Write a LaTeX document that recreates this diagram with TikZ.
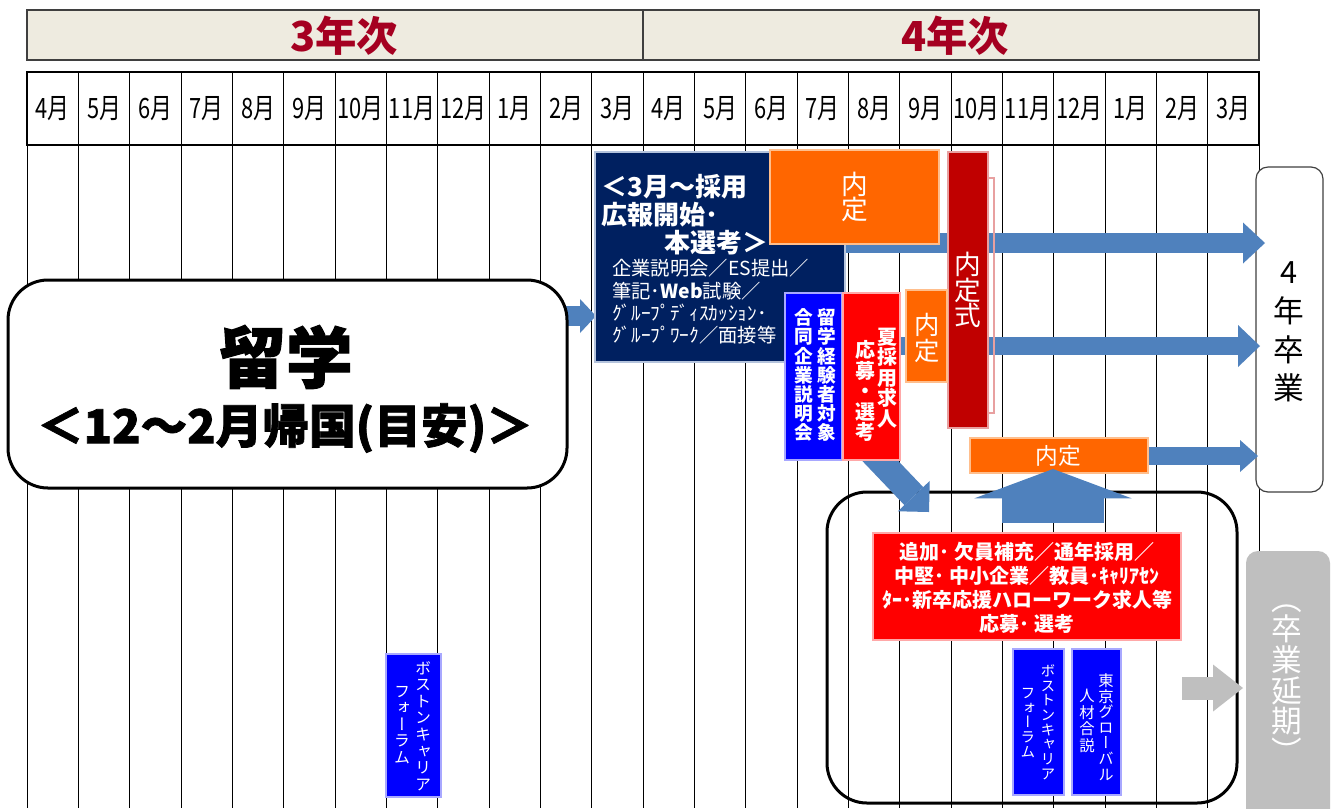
\documentclass[tikz,border=0pt]{standalone}
\usepackage{fontspec}
\setmainfont{Noto Sans CJK JP}
\newfontfamily\vjp{Noto Sans CJK JP}[RawFeature={+vert}]
\newfontfamily\monthfont{Noto Sans CJK JP}[FakeStretch=0.78]
\newfontfamily\heavyjp{Noto Sans CJK JP}[BoldFeatures={FakeBold=1.6}]
\usetikzlibrary{arrows.meta,fit}
\definecolor{hdrfill}{HTML}{EEEBE0}
\definecolor{hdredge}{HTML}{3F3F3F}
\definecolor{hdrtext}{HTML}{A50021}
\definecolor{navyc}{HTML}{002060}
\definecolor{navyedge}{HTML}{B4C3DC}
\definecolor{orangec}{HTML}{FF6600}
\definecolor{orangeedge}{HTML}{FFBE8C}
\definecolor{dredc}{HTML}{C00000}
\definecolor{drededge}{HTML}{E8A0A0}
\definecolor{redc}{HTML}{FF0000}
\definecolor{rededge}{HTML}{FFA8A8}
\definecolor{bluec}{HTML}{0000FF}
\definecolor{blueedge}{HTML}{A8A8FF}
\definecolor{arrowc}{HTML}{4F81BD}
\definecolor{grayc}{HTML}{BFBFBF}
\definecolor{gradedge}{HTML}{404040}
\tikzset{
  gridline/.style={draw=black, line width=0.6pt},
  hdrbox/.style={draw=hdredge, fill=hdrfill, line width=1.1pt, inner sep=0pt},
  hdrlabel/.style={font=\bfseries\fontsize{31}{31}\selectfont, text=hdrtext, inner sep=0pt},
  monthrow/.style={draw=black, line width=0.9pt, inner sep=0pt},
  monthlabel/.style={font=\monthfont\fontsize{21}{21}\selectfont, inner sep=0pt},
  cbox/.style={line width=1.1pt, inner sep=0pt},
  navybox/.style={cbox, fill=navyc, draw=navyedge},
  orangebox/.style={cbox, fill=orangec, draw=orangeedge},
  dredbox/.style={cbox, fill=dredc, draw=drededge},
  redbox/.style={cbox, fill=redc, draw=rededge},
  bluebox/.style={cbox, fill=bluec, draw=blueedge},
  biground/.style={draw=black, line width=2.25pt, rounded corners=30pt, inner sep=0pt},
  gradbox/.style={draw=gradedge, fill=white, line width=0.9pt, rounded corners=9pt, inner sep=0pt},
  delaybox/.style={fill=grayc, rounded corners=9pt, inner sep=0pt},
  wtext/.style={text=white, inner sep=0pt, align=center},
  ltext/.style={text=white, inner sep=0pt, anchor=west},
  vcol/.style={text=white, inner sep=0pt, align=center},
  barrow/.style n args={4}{line width=#1, draw=#4, -{Triangle[width=#2, length=#3, line width=0pt]}},
}
\begin{document}
\begin{tikzpicture}[x=0.75pt,y=-0.75pt]
\lineskiplimit=-100pt \lineskip=0pt
\useasboundingbox (0,0) rectangle (1333,808);
\clip (0,0) rectangle (1333,808);
\fill[white] (0,0) rectangle (1333,808);

% year headers
\node[hdrbox, fit={(27,10) (643,60)}] (y3) {};
\node[hdrlabel] (y3t) at (344,36) {3年次};
\node[hdrbox, fit={(643,10) (1259,60)}] (y4) {};
\node[hdrlabel] (y4t) at (955,36) {4年次};

% month row and grid
\node[monthrow, fit={(27,72) (1259,145)}] (mrow) {};
\foreach \i in {0,...,24}
  \draw[gridline] ({27+\i*51.333},72) -- ({27+\i*51.333},808);
\draw[gridline] (27,145) -- (1259,145);
\foreach \m [count=\i from 0] in {4,5,6,7,8,9,10,11,12,1,2,3,4,5,6,7,8,9,10,11,12,1,2,3}
  \node[monthlabel] (m\i) at ({27+(\i+0.5)*51.333},109) {\m 月};

% background-level boxes
\node[gradbox, fit={(1256,167) (1323,492)}] (grad) {};
\node[inner sep=0pt, align=center, font=\fontsize{23}{29}\selectfont] (gradt) at (1289,332) {4\\年\\卒\\業};
\node[biground, fit={(827,492) (1237,803)}] (bigbox) {};
\node[orangebox, fit={(970,438) (1148,473)}] (nt3) {};
\node[wtext, font=\fontsize{17}{17}\selectfont] (nt3t) at (1058,456) {内定};
\node[delaybox, fit={(1246,551) (1330,840)}] (delay) {};
\node[vcol, font=\vjp\fontsize{23}{23}\selectfont] (delayt) at (1287,684) {（\\卒\\業\\延\\期\\）};

% arrows
\coordinate (a0s) at (566,316);
\coordinate (a0e) at (596,316);
\coordinate (a1s) at (843,243);
\coordinate (a1e) at (1265,243);
\coordinate (a2s) at (900,346);
\coordinate (a2e) at (1260,346);
\coordinate (a3e) at (1258,456);
\coordinate (aus) at (1053,523);
\coordinate (aue) at (1053,469);
\coordinate (ads) at (866,446);
\coordinate (ade) at (929,512);
\coordinate (ags) at (1182,688);
\coordinate (age) at (1243,688);
\draw[barrow={15pt}{30.75pt}{16.5pt}{arrowc}] (a1s) -- (a1e);
\draw[barrow={13.5pt}{31.5pt}{16.5pt}{arrowc}] (a2s) -- (a2e);
\draw[barrow={13.5pt}{24pt}{13.5pt}{arrowc}] (nt3.east |- a3e) -- (a3e);
\draw[barrow={77pt}{118pt}{22pt}{arrowc}] (aus) -- (aue);
\draw[barrow={19.5pt}{33pt}{16.5pt}{arrowc}] (ads) -- (ade);
\draw[barrow={17.25pt}{35.25pt}{22.5pt}{grayc}] (ags) -- (age);
\draw[barrow={15pt}{25.5pt}{12pt}{arrowc}] (a0s) -- (a0e);

% navy box
\node[navybox, fit={(595,152) (845,362)}] (navy) {};
\node[ltext, font=\bfseries\fontsize{19.5}{19.5}\selectfont] (nv1) at (601,187) {＜3月～採用};
\node[ltext, font=\bfseries\fontsize{19.5}{19.5}\selectfont] (nv2) at (601,215) {広報開始･};
\node[ltext, font=\bfseries\fontsize{19.5}{19.5}\selectfont] (nv3) at (664,243) {本選考＞};
\node[ltext, font=\fontsize{14.5}{14.5}\selectfont] (nv4) at (612,268) {企業説明会／ES提出／};
\node[ltext, font=\fontsize{14.5}{14.5}\selectfont] (nv5) at (612,291) {筆記･\textbf{Web}試験／};
\node[ltext, font=\fontsize{14.5}{14.5}\selectfont] (nv6) at (612,313) {ｸﾞﾙｰﾌﾟﾃﾞｨｽｶｯｼｮﾝ･};
\node[ltext, font=\fontsize{14.5}{14.5}\selectfont] (nv7) at (612,335) {ｸﾞﾙｰﾌﾟﾜｰｸ／面接等};

% naitei (top)
\node[orangebox, fit={(770,150) (939,244)}] (nt1) {};
\node[wtext, font=\fontsize{20}{19}\selectfont] (nt1t) at (855,197) {内\\定};

% naitei-shiki
\draw[drededge, line width=0.8pt] (988,178) -- (994,178) -- (994,413) -- (988,413);
\node[dredbox, fit={(948,152) (988,428)}] (shiki) {};
\node[vcol, font=\fontsize{20}{19}\selectfont] (shikit) at (968,290) {内\\定\\式};

% naitei (small)
\node[orangebox, fit={(906,290) (947,382)}] (nt2) {};
\node[vcol, font=\fontsize{19}{19}\selectfont] (nt2t) at (927,338) {内\\定};

% ryugaku joint fair
\node[bluebox, fit={(785,293) (842,460)}] (fair) {};
\node[vcol, font=\vjp\bfseries\fontsize{14}{14.3}\selectfont] (fairr) at (827,375) {留\\学\\経\\験\\者\\対\\象};
\node[vcol, font=\vjp\bfseries\fontsize{14}{14.3}\selectfont] (fairl) at (804,375) {合\\同\\企\\業\\説\\明\\会};

% summer recruiting
\node[redbox, fit={(843,293) (900,460)}] (summer) {};
\node[vcol, font=\vjp\bfseries\fontsize{15}{15.4}\selectfont] (summerr) at (887,378) {夏\\採\\用\\求\\人};
\node[vcol, font=\vjp\bfseries\fontsize{15}{15.4}\selectfont] (summerl) at (865,391) {応\\募\\・\\選\\考};

% additional recruiting
\node[redbox, fit={(873,533) (1181,640)}] (extra) {};
\node[wtext, font=\bfseries\fontsize{15}{18}\selectfont] (extrat) at (1027,588) {追加･ 欠員補充／通年採用／\\中堅･ 中小企業／教員･ｷｬﾘｱｾﾝ\\ﾀｰ･新卒応援ハローワーク求人等\\応募･ 選考};

% forums
\node[bluebox, fit={(1013,649) (1064,795)}] (bos2) {};
\node[vcol, font=\vjp\fontsize{11}{11}\selectfont] (bos2r) at (1048,722) {ボ\\ス\\ト\\ン\\キ\\ャ\\リ\\ア};
\node[vcol, font=\vjp\fontsize{11}{11}\selectfont] (bos2l) at (1028,723) {フ\\ォ\\ー\\ラ\\ム};
\node[bluebox, fit={(1072,649) (1121,795)}] (tokyo) {};
\node[vcol, font=\vjp\fontsize{11.5}{11.7}\selectfont] (tokyor) at (1106,727) {東\\京\\グ\\ロ\\ー\\バ\\ル};
\node[vcol, font=\vjp\fontsize{11.5}{12.5}\selectfont] (tokyol) at (1087,721) {人\\材\\合\\説};
\node[bluebox, fit={(386,654) (441,797)}] (bos1) {};
\node[vcol, font=\vjp\fontsize{12}{12.4}\selectfont] (bos1r) at (423,726) {ボ\\ス\\ト\\ン\\キ\\ャ\\リ\\ア};
\node[vcol, font=\vjp\fontsize{12}{12.4}\selectfont] (bos1l) at (402,725) {フ\\ォ\\ー\\ラ\\ム};

% ryugaku
\node[biground, fill=white, fit={(8,280) (567,488)}] (ryu) {};
\node[inner sep=0pt, font=\heavyjp\bfseries\fontsize{50}{50}\selectfont] (ryu1) at (286,357) {留学};
\node[inner sep=0pt, font=\heavyjp\bfseries\fontsize{35}{35}\selectfont] (ryu2) at (285,428) {＜12～2月帰国(目安)＞};
\end{tikzpicture}
\end{document}
